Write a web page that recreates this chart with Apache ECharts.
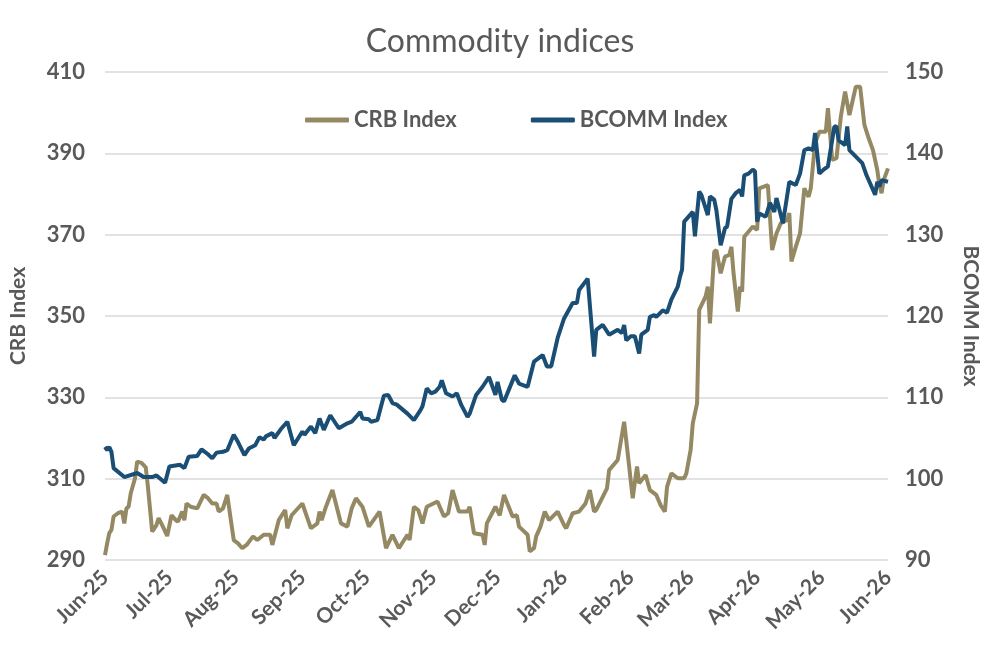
<!DOCTYPE html>
<html>
<head>
<meta charset="utf-8">
<title>Commodity indices</title>
<script src="https://cdn.jsdelivr.net/npm/echarts@6/dist/echarts.min.js"></script>
<style>
  html, body { margin: 0; padding: 0; background: #ffffff; }
  #chart { width: 1000px; height: 667px; }
</style>
</head>
<body>
<div id="chart"></div>
<script>
const monthNames = ['Jan', 'Feb', 'Mar', 'Apr', 'May', 'Jun', 'Jul', 'Aug', 'Sep', 'Oct', 'Nov', 'Dec']

const crbDates = [
  '2025-06-01', '2025-06-02', '2025-06-03', '2025-06-04', '2025-06-05', '2025-06-07', '2025-06-09', '2025-06-10',
  '2025-06-11', '2025-06-12', '2025-06-13', '2025-06-15', '2025-06-16', '2025-06-18', '2025-06-20', '2025-06-21',
  '2025-06-23', '2025-06-25', '2025-06-26', '2025-06-28', '2025-06-30', '2025-07-02', '2025-07-04', '2025-07-05',
  '2025-07-07', '2025-07-08', '2025-07-09', '2025-07-11', '2025-07-14', '2025-07-17', '2025-07-19', '2025-07-21',
  '2025-07-23', '2025-07-24', '2025-07-26', '2025-07-28', '2025-07-31', '2025-08-02', '2025-08-04', '2025-08-06',
  '2025-08-09', '2025-08-11', '2025-08-14', '2025-08-17', '2025-08-18', '2025-08-21', '2025-08-24', '2025-08-25',
  '2025-08-27', '2025-09-01', '2025-09-05', '2025-09-08', '2025-09-09', '2025-09-10', '2025-09-12', '2025-09-15',
  '2025-09-19', '2025-09-22', '2025-09-24', '2025-09-26', '2025-09-29', '2025-10-02', '2025-10-07', '2025-10-10',
  '2025-10-13', '2025-10-16', '2025-10-20', '2025-10-21', '2025-10-23', '2025-10-25', '2025-10-27', '2025-10-29',
  '2025-11-03', '2025-11-06', '2025-11-08', '2025-11-10', '2025-11-13', '2025-11-17', '2025-11-18', '2025-11-20',
  '2025-11-24', '2025-11-25', '2025-11-26', '2025-11-30', '2025-12-02', '2025-12-04', '2025-12-08', '2025-12-10',
  '2025-12-11', '2025-12-15', '2025-12-16', '2025-12-18', '2025-12-19', '2025-12-21', '2025-12-23', '2025-12-25',
  '2025-12-29', '2026-01-01', '2026-01-02', '2026-01-05', '2026-01-08', '2026-01-11', '2026-01-13', '2026-01-15',
  '2026-01-16', '2026-01-21', '2026-01-22', '2026-01-26', '2026-01-29', '2026-02-02', '2026-02-04', '2026-02-05',
  '2026-02-08', '2026-02-10', '2026-02-13', '2026-02-15', '2026-02-17', '2026-02-18', '2026-02-20', '2026-02-23',
  '2026-02-26', '2026-02-27', '2026-03-01', '2026-03-02', '2026-03-04', '2026-03-05', '2026-03-08', '2026-03-09',
  '2026-03-10', '2026-03-12', '2026-03-13', '2026-03-15', '2026-03-17', '2026-03-19', '2026-03-20', '2026-03-21',
  '2026-03-23', '2026-03-24', '2026-03-25', '2026-03-26', '2026-03-30', '2026-04-01', '2026-04-02', '2026-04-06',
  '2026-04-08', '2026-04-10', '2026-04-12', '2026-04-15', '2026-04-16', '2026-04-17', '2026-04-19', '2026-04-21',
  '2026-04-23', '2026-04-25', '2026-04-26', '2026-04-28', '2026-04-30', '2026-05-03', '2026-05-04', '2026-05-06',
  '2026-05-08', '2026-05-10', '2026-05-12', '2026-05-14', '2026-05-17', '2026-05-19', '2026-05-21', '2026-05-23',
  '2026-05-25', '2026-05-27', '2026-05-28', '2026-05-29', '2026-05-30', '2026-06-01'
]
const crbValues = [
  291.2, 294.1, 296.6, 297.4, 300.7, 301.5, 301.9, 299.0,
  302.7, 303.1, 306.4, 310.1, 314.2, 313.9, 312.8, 308.0,
  297.0, 298.6, 300.3, 298.2, 295.9, 301.0, 299.8, 299.4,
  301.9, 299.8, 303.9, 303.1, 302.7, 306.0, 305.2, 303.9,
  303.9, 301.9, 302.7, 306.0, 294.9, 294.1, 292.9, 293.7,
  295.8, 294.9, 296.2, 296.2, 293.7, 299.8, 302.3, 297.8,
  301.0, 303.9, 297.8, 299.0, 301.9, 299.8, 303.1, 307.2,
  299.0, 298.2, 302.7, 305.2, 303.1, 298.2, 301.9, 292.9,
  296.2, 292.9, 296.2, 294.9, 303.1, 302.3, 299.0, 303.1,
  304.4, 300.7, 301.5, 307.2, 301.9, 301.9, 303.1, 296.6,
  296.2, 293.7, 299.0, 303.1, 301.0, 306.0, 300.7, 301.0,
  298.2, 296.2, 292.1, 292.9, 295.8, 298.2, 301.9, 299.8,
  301.9, 298.6, 297.8, 301.5, 301.9, 303.9, 307.2, 301.9,
  302.3, 307.6, 312.1, 314.6, 324.0, 305.2, 313.0, 308.9,
  310.9, 307.2, 306.0, 303.5, 301.9, 308.0, 311.3, 310.1,
  310.1, 311.3, 317.1, 323.6, 328.5, 351.5, 354.8, 357.2,
  348.2, 365.8, 366.2, 360.5, 364.6, 365.0, 367.0, 360.5,
  351.1, 357.2, 356.0, 369.5, 372.0, 371.2, 381.4, 382.2,
  366.2, 370.3, 372.8, 373.6, 375.3, 363.4, 367.0, 370.3,
  381.4, 379.3, 381.4, 392.5, 395.3, 395.3, 401.1, 388.4,
  388.8, 399.0, 405.2, 399.4, 406.4, 406.4, 397.0, 393.7,
  390.8, 385.9, 382.2, 380.2, 383.4, 386.3
]

const bcommDates = [
  '2025-06-01', '2025-06-02', '2025-06-03', '2025-06-04', '2025-06-05', '2025-06-10', '2025-06-16', '2025-06-19',
  '2025-06-23', '2025-06-25', '2025-06-29', '2025-07-01', '2025-07-06', '2025-07-08', '2025-07-10', '2025-07-14',
  '2025-07-16', '2025-07-19', '2025-07-21', '2025-07-23', '2025-07-26', '2025-07-28', '2025-07-31', '2025-08-02',
  '2025-08-05', '2025-08-07', '2025-08-10', '2025-08-12', '2025-08-14', '2025-08-15', '2025-08-18', '2025-08-19',
  '2025-08-22', '2025-08-25', '2025-08-28', '2025-09-01', '2025-09-02', '2025-09-05', '2025-09-07', '2025-09-09',
  '2025-09-11', '2025-09-14', '2025-09-18', '2025-09-22', '2025-09-24', '2025-09-28', '2025-09-29', '2025-10-02',
  '2025-10-03', '2025-10-06', '2025-10-09', '2025-10-11', '2025-10-13', '2025-10-15', '2025-10-20', '2025-10-23',
  '2025-10-26', '2025-10-27', '2025-10-29', '2025-10-31', '2025-11-02', '2025-11-04', '2025-11-05', '2025-11-07',
  '2025-11-10', '2025-11-12', '2025-11-14', '2025-11-17', '2025-11-18', '2025-11-21', '2025-11-24', '2025-11-27',
  '2025-11-30', '2025-12-01', '2025-12-03', '2025-12-04', '2025-12-09', '2025-12-11', '2025-12-15', '2025-12-18',
  '2025-12-22', '2025-12-24', '2025-12-26', '2025-12-29', '2026-01-01', '2026-01-05', '2026-01-07', '2026-01-08',
  '2026-01-12', '2026-01-13', '2026-01-15', '2026-01-16', '2026-01-19', '2026-01-22', '2026-01-26', '2026-01-28',
  '2026-01-29', '2026-01-30', '2026-02-01', '2026-02-03', '2026-02-05', '2026-02-06', '2026-02-09', '2026-02-10',
  '2026-02-12', '2026-02-13', '2026-02-16', '2026-02-18', '2026-02-20', '2026-02-23', '2026-02-24', '2026-02-25',
  '2026-02-26', '2026-03-02', '2026-03-03', '2026-03-05', '2026-03-06', '2026-03-09', '2026-03-10', '2026-03-12',
  '2026-03-13', '2026-03-15', '2026-03-17', '2026-03-18', '2026-03-20', '2026-03-22', '2026-03-24', '2026-03-25',
  '2026-03-26', '2026-03-28', '2026-03-30', '2026-03-31', '2026-04-01', '2026-04-02', '2026-04-05', '2026-04-07',
  '2026-04-09', '2026-04-10', '2026-04-13', '2026-04-16', '2026-04-19', '2026-04-21', '2026-04-23', '2026-04-25',
  '2026-04-27', '2026-04-28', '2026-04-30', '2026-05-02', '2026-05-04', '2026-05-07', '2026-05-08', '2026-05-09',
  '2026-05-12', '2026-05-13', '2026-05-14', '2026-05-17', '2026-05-20', '2026-05-22', '2026-05-26', '2026-05-27',
  '2026-05-28', '2026-05-29', '2026-06-01'
]
const bcommValues = [
  103.9, 103.5, 103.9, 103.3, 101.3, 100.2, 100.7, 100.2,
  100.2, 100.4, 99.5, 101.5, 101.7, 101.3, 102.7, 102.8,
  103.6, 103.0, 102.5, 103.2, 103.3, 103.5, 105.4, 104.5,
  102.9, 103.7, 104.1, 105.1, 104.8, 105.2, 105.6, 105.0,
  106.1, 107.0, 104.1, 105.8, 105.4, 106.4, 105.6, 107.4,
  106.0, 107.8, 106.2, 106.8, 107.0, 108.2, 107.4, 107.3,
  107.0, 107.2, 110.2, 110.3, 109.3, 109.1, 108.0, 107.2,
  108.4, 108.9, 111.1, 110.5, 110.7, 111.3, 112.1, 110.5,
  110.1, 110.5, 109.1, 107.6, 108.0, 110.3, 111.3, 112.5,
  110.3, 111.9, 109.7, 109.5, 112.7, 111.7, 111.3, 114.4,
  115.2, 113.8, 113.8, 117.3, 119.7, 121.6, 121.6, 123.2,
  124.6, 121.4, 115.0, 118.3, 118.9, 117.7, 118.3, 117.9,
  118.9, 117.0, 117.5, 117.5, 115.4, 117.7, 118.3, 119.9,
  120.1, 119.9, 120.7, 120.4, 122.0, 123.6, 124.8, 125.7,
  131.6, 132.8, 129.8, 135.3, 134.9, 132.4, 134.7, 134.3,
  133.0, 128.7, 130.8, 131.0, 134.4, 135.1, 135.5, 134.7,
  137.3, 137.5, 138.0, 137.8, 131.6, 132.6, 132.2, 133.9,
  132.8, 134.5, 131.4, 136.5, 136.1, 137.5, 140.4, 140.6,
  140.4, 142.5, 137.5, 138.0, 138.4, 143.3, 143.3, 141.6,
  141.0, 143.3, 140.4, 139.6, 138.8, 137.3, 134.9, 136.5,
  135.9, 136.7, 136.5
]

const textColor = '#595959'
const fontFamily = 'Lato, "Open Sans", sans-serif'

const chart = echarts.init(document.getElementById('chart'))

chart.setOption({
  animation: false,
  backgroundColor: '#ffffff',
  textStyle: { fontFamily },
  title: {
    text: 'Commodity indices',
    left: 'center',
    top: 21,
    textStyle: { color: textColor, fontSize: 32, fontWeight: 'normal', fontFamily },
  },
  legend: {
    top: 104,
    left: 300,
    icon: 'roundRect',
    itemWidth: 44,
    itemHeight: 5,
    itemGap: 74,
    textStyle: { color: textColor, fontSize: 22, fontWeight: 'bold', fontFamily },
    data: ['CRB Index', 'BCOMM Index'],
  },
  grid: {
    left: 105,
    right: 112,
    top: 72,
    bottom: 107,
    outerBoundsMode: 'none',
  },
  xAxis: {
    type: 'time',
    min: '2025-06-01',
    max: '2026-06-01',
    splitNumber: 12,
    minInterval: 28 * 86400000,
    maxInterval: 31 * 86400000,
    axisLine: { show: false },
    axisTick: { show: false },
    splitLine: { show: false },
    axisLabel: {
      rotate: 45,
      margin: 14,
      color: textColor,
      fontSize: 21,
      fontWeight: 'bold',
      fontFamily,
      showMinLabel: true,
      showMaxLabel: true,
      hideOverlap: false,
      formatter: (value) => {
        const d = new Date(value)
        return monthNames[d.getMonth()] + '-' + String(d.getFullYear()).slice(2)
      },
    },
  },
  yAxis: [
    {
      type: 'value',
      name: 'CRB Index',
      nameLocation: 'middle',
      nameGap: 76,
      nameTextStyle: { color: textColor, fontSize: 21, fontWeight: 'bold', fontFamily },
      min: 290,
      max: 410,
      interval: 20,
      axisLine: { show: false },
      axisTick: { show: false },
      axisLabel: { color: textColor, fontSize: 22, fontWeight: 'bold', fontFamily, margin: 20 },
      splitLine: { lineStyle: { color: '#d9d9d9', width: 1.5 } },
    },
    {
      type: 'value',
      name: 'BCOMM Index',
      nameLocation: 'middle',
      nameGap: 72,
      nameRotate: -90,
      nameTextStyle: { color: textColor, fontSize: 21, fontWeight: 'bold', fontFamily },
      min: 90,
      max: 150,
      interval: 10,
      axisLine: { show: false },
      axisTick: { show: false },
      axisLabel: { color: textColor, fontSize: 22, fontWeight: 'bold', fontFamily, margin: 17 },
      splitLine: { show: false },
    },
  ],
  series: [
    {
      name: 'CRB Index',
      type: 'line',
      yAxisIndex: 0,
      symbol: 'none',
      color: '#958964',
      lineStyle: { color: '#958964', width: 4 },
      data: crbDates.map((d, i) => [d, crbValues[i]]),
    },
    {
      name: 'BCOMM Index',
      type: 'line',
      yAxisIndex: 1,
      symbol: 'none',
      color: '#1a4e75',
      lineStyle: { color: '#1a4e75', width: 4 },
      data: bcommDates.map((d, i) => [d, bcommValues[i]]),
    },
  ],
})
</script>
</body>
</html>
